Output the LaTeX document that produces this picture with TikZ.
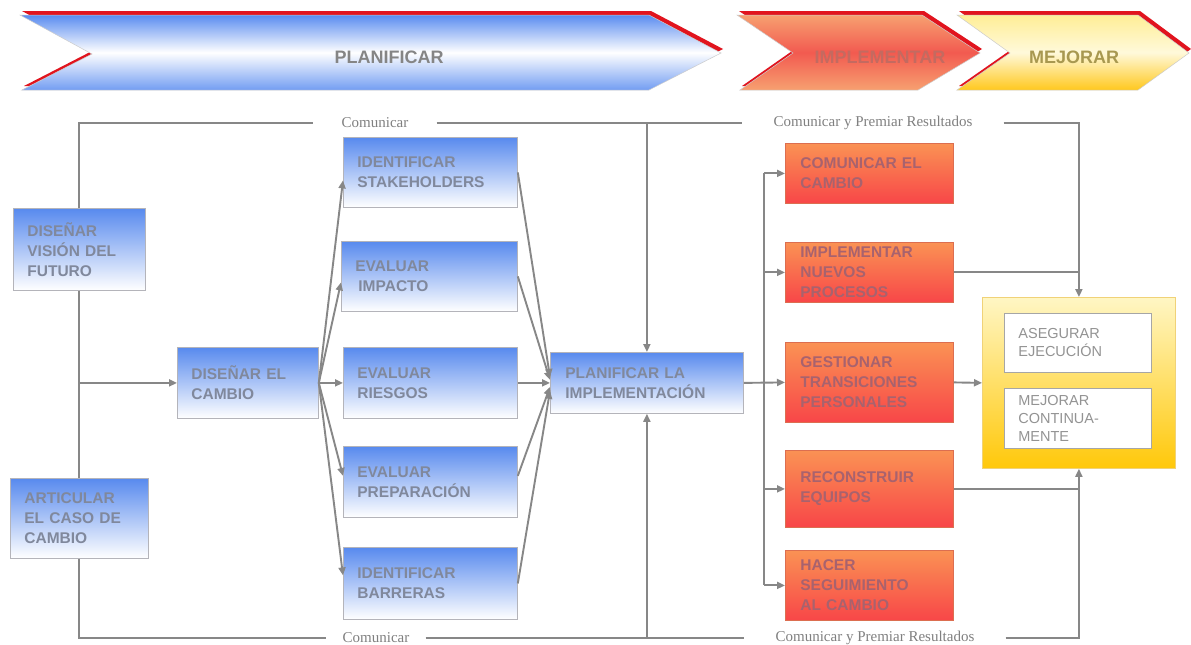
\documentclass[tikz,border=0pt]{standalone}
\usepackage{fontspec}
\setmainfont{Liberation Sans}
\newfontfamily\labelserif{Liberation Serif}
\usetikzlibrary{arrows.meta,calc}
\definecolor{linegray}{RGB}{135,135,135}
\definecolor{bluetop}{RGB}{88,138,238}
\definecolor{bluetxt}{RGB}{128,136,156}
\definecolor{boxgray}{RGB}{180,180,186}
\definecolor{orgtop}{RGB}{250,146,84}
\definecolor{orgbot}{RGB}{248,70,72}
\definecolor{orgtxt}{RGB}{168,98,110}
\definecolor{orgborder}{RGB}{220,110,80}
\definecolor{yeltop}{RGB}{255,246,196}
\definecolor{yelbot}{RGB}{255,200,10}
\definecolor{yelborder}{RGB}{240,210,120}
\definecolor{chevred}{RGB}{225,20,30}
\definecolor{chevblue}{RGB}{90,140,240}
\definecolor{chevorgA}{RGB}{247,160,112}
\definecolor{chevorgB}{RGB}{242,90,80}
\definecolor{chevyelA}{RGB}{255,238,150}
\definecolor{chevyelB}{RGB}{255,200,30}
\definecolor{labelgray}{RGB}{128,128,128}
\begin{document}
\begin{tikzpicture}[x=1pt,y=1pt,
  boxbase/.style={anchor=north west, align=left, inner xsep=14pt, inner ysep=0pt, line width=0.8pt},
  sz/.style n args={3}{minimum width=#1, minimum height=#2, text width=#3},
  bluebox/.style={boxbase, draw=boxgray, top color=bluetop, bottom color=white, text=bluetxt,
     font=\fontsize{15.5}{20}\selectfont\bfseries},
  orgbox/.style={boxbase, draw=orgborder, top color=orgtop, bottom color=orgbot, text=orgtxt,
     font=\fontsize{15.5}{20}\selectfont\bfseries},
  yelbox/.style={anchor=north west, inner sep=0pt, draw=yelborder, line width=0.8pt, top color=yeltop, bottom color=yelbot},
  whitebox/.style={boxbase, draw=gray!70, fill=white, text=gray!85, font=\fontsize{14.5}{18}\selectfont},
  lbl/.style={inner ysep=2pt, text=labelgray, font=\labelserif\fontsize{15}{17}\selectfont},
  chevtxt/.style={font=\fontsize{18}{20}\selectfont\bfseries},
  conn/.style={draw=linegray, line width=1.9pt},
  arr/.style={conn, -{Triangle[length=8pt,width=7pt]}}
]
\useasboundingbox (0,0) rectangle (1191,-645);
\fill[white] (0,0) rectangle (1191,-645);

% ---------- chevrons ----------
\fill[chevred, xshift=2pt, yshift=4pt] (20,-15) -- (649,-15) -- (721,-53) -- (649,-90) -- (22,-90) -- (92,-54) -- cycle;
\path[top color=chevblue, bottom color=chevblue!85, middle color=white, draw=gray!40, line width=0.5pt]
  (20,-15) -- (649,-15) -- (721,-53) -- (649,-90) -- (22,-90) -- (92,-54) -- cycle;
\fill[chevred, xshift=2pt, yshift=4pt] (737,-15) -- (922,-15) -- (980,-53) -- (918,-90) -- (740,-90) -- (793,-53) -- cycle;
\path[top color=chevorgA, bottom color=chevorgA, middle color=chevorgB, draw=gray!40, line width=0.5pt]
  (737,-15) -- (922,-15) -- (980,-53) -- (918,-90) -- (740,-90) -- (793,-53) -- cycle;
\fill[chevred, xshift=2pt, yshift=4pt] (957,-15) -- (1138,-15) -- (1189,-53) -- (1138,-90) -- (957,-90) -- (1010,-53) -- cycle;
\path[top color=chevyelA, bottom color=chevyelB, middle color=chevyelA!35, draw=gray!40, line width=0.5pt]
  (957,-15) -- (1138,-15) -- (1189,-53) -- (1138,-90) -- (957,-90) -- (1010,-53) -- cycle;
\node[chevtxt, text={rgb,255:red,133;green,133;blue,133}] (tplan) at (389,-57) {PLANIFICAR};
\node[chevtxt, text={rgb,255:red,196;green,106;blue,96}] (timpl) at (880,-57) {IMPLEMENTAR};
\node[chevtxt, text={rgb,255:red,168;green,152;blue,80}] (tmej) at (1074,-57) {MEJORAR};

% ---------- boxes ----------
\node[bluebox, sz={132pt}{82pt}{104pt}] (vision) at (13,-208) {DISEÑAR\\VISIÓN DEL\\FUTURO};
\node[bluebox, sz={138pt}{80pt}{110pt}] (artic) at (10,-478) {ARTICULAR\\EL CASO DE\\CAMBIO};
\node[bluebox, sz={141pt}{71pt}{113pt}] (cambio) at (177,-347) {DISEÑAR EL\\CAMBIO};
\node[bluebox, sz={174pt}{70pt}{146pt}] (stake) at (343,-137) {IDENTIFICAR\\STAKEHOLDERS};
\node[bluebox, sz={176pt}{70pt}{148pt}] (impact) at (341,-241) {EVALUAR\\\hspace*{3pt}IMPACTO};
\node[bluebox, sz={174pt}{71pt}{146pt}] (riesg) at (343,-347) {EVALUAR\\RIESGOS};
\node[bluebox, sz={174pt}{71pt}{146pt}] (prep) at (343,-446) {EVALUAR\\PREPARACIÓN};
\node[bluebox, sz={174pt}{72pt}{146pt}] (barr) at (343,-547) {IDENTIFICAR\\BARRERAS};
\node[bluebox, sz={193pt}{61pt}{163pt}, inner xsep=15pt] (planimpl) at (550,-352) {PLANIFICAR LA\\IMPLEMENTACIÓN};

\node[orgbox, sz={168pt}{60pt}{138pt}, inner xsep=15pt] (comm) at (785,-143) {COMUNICAR EL\\CAMBIO};
\node[orgbox, sz={168pt}{60pt}{138pt}, inner xsep=15pt] (impl) at (785,-242) {IMPLEMENTAR\\NUEVOS\\PROCESOS};
\node[orgbox, sz={168pt}{80pt}{138pt}, inner xsep=15pt] (gest) at (785,-342) {GESTIONAR\\TRANSICIONES\\PERSONALES};
\node[orgbox, sz={168pt}{77pt}{138pt}, inner xsep=15pt] (recon) at (785,-450) {RECONSTRUIR\\EQUIPOS};
\node[orgbox, sz={168pt}{70pt}{138pt}, inner xsep=15pt] (hacer) at (785,-550) {HACER\\SEGUIMIENTO\\AL CAMBIO};

\node[yelbox, minimum width=193pt, minimum height=171pt] (yellow) at (982,-297) {};
\node[whitebox, sz={147pt}{59pt}{119pt}] (ase) at (1004,-313) {ASEGURAR\\EJECUCIÓN};
\node[whitebox, sz={147pt}{60pt}{119pt}] (mej) at (1004,-388) {MEJORAR\\CONTINUA-\\MENTE};

% ---------- labels ----------
\node[lbl, inner xsep=28pt] (com1) at (375,-123) {Comunicar};
\node[lbl, inner xsep=31pt] (cpr1) at (873,-123) {Comunicar y Premiar Resultados};
\node[lbl, inner xsep=16pt] (com2) at (376,-638) {Comunicar};
\node[lbl, inner xsep=31pt] (cpr2) at (875,-638) {Comunicar y Premiar Resultados};

% ---------- connectors ----------
\draw[conn] (vision.north) |- (com1.west);
\draw[conn] (com1.east) -- (cpr1.west);
\draw[arr] (cpr1.east) -| (yellow.north);
\draw[conn] (vision.south) -- (artic.north);
\draw[conn] (artic.south) |- (com2.west);
\draw[conn] (com2.east) -- (cpr2.west);
\draw[arr] (cpr2.east) -| (yellow.south);
\draw[arr] (vision.south |- cambio.west) -- (cambio.west);
\draw[arr] (planimpl.north |- com1.east) -- (planimpl.north);
\draw[arr] (planimpl.south |- com2.east) -- (planimpl.south);

\draw[arr] (cambio.east) -- ([yshift=-8pt]stake.west);
\draw[arr] (cambio.east) -- ([yshift=-6pt]impact.west);
\draw[arr] (cambio.east) -- (riesg.west);
\draw[arr] (cambio.east) -- ([yshift=6pt]prep.west);
\draw[arr] (cambio.east) -- ([yshift=8pt]barr.west);

\draw[arr] (stake.east) -- ([yshift=6pt]planimpl.west);
\draw[arr] (impact.east) -- ([yshift=3pt]planimpl.west);
\draw[arr] (riesg.east) -- (planimpl.west);
\draw[arr] ([yshift=6pt]prep.east) -- ([yshift=-4pt]planimpl.west);
\draw[arr] (barr.east) -- ([yshift=-8pt]planimpl.west);

\coordinate (bus) at (764,0);
\draw[conn] (bus |- comm.west) -- (bus |- hacer.west);
\draw[arr] (bus |- comm.west) -- (comm.west);
\draw[arr] (bus |- impl.west) -- (impl.west);
\draw[arr] (planimpl.east) -- (gest.west);
\draw[arr] (bus |- recon.west) -- (recon.west);
\draw[arr] (bus |- hacer.west) -- (hacer.west);

\draw[conn] (impl.east) -- (impl.east -| yellow.north);
\draw[conn] (recon.east) -- (recon.east -| yellow.south);
\draw[arr] (gest.east) -- (yellow.west);
\end{tikzpicture}
\end{document}
